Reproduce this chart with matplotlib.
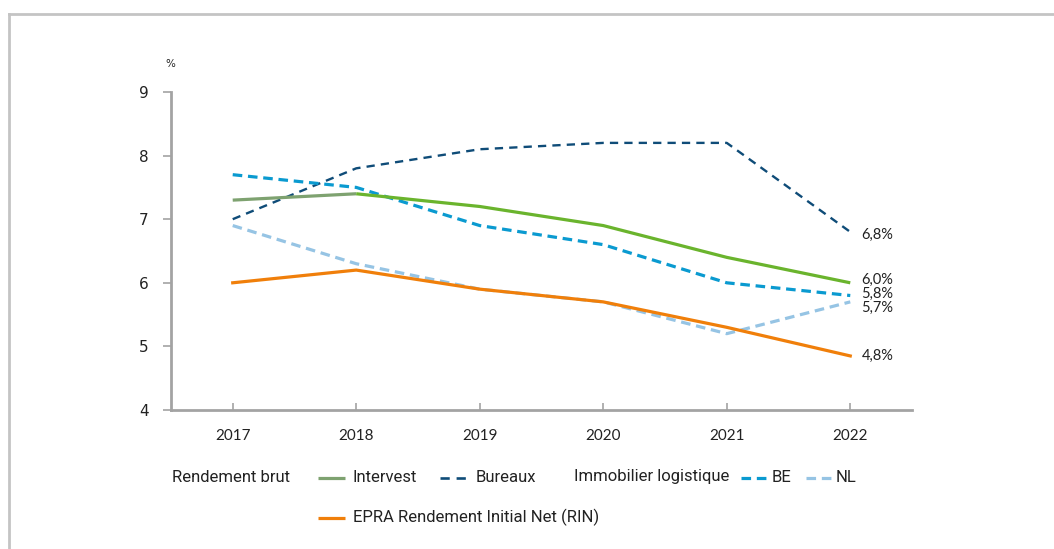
import matplotlib.pyplot as plt
from matplotlib.lines import Line2D

# données (rendements en %)
annees = [2017, 2018, 2019, 2020, 2021, 2022]
intervest = [7.3, 7.4, 7.2, 6.9, 6.4, 6.0]
bureaux = [7.0, 7.8, 8.1, 8.2, 8.2, 6.8]
logistique_be = [7.7, 7.5, 6.9, 6.6, 6.0, 5.8]
logistique_nl = [6.9, 6.3, 5.9, 5.7, 5.2, 5.7]
epra_rin = [6.0, 6.2, 5.9, 5.7, 5.3, 4.85]

etiquettes_fin = ['6,8%', '6,0%', '5,8%', '5,7%', '4,8%']
valeurs_fin = [bureaux[-1], intervest[-1], logistique_be[-1], logistique_nl[-1], epra_rin[-1]]
decalages_fin = [-2, 2, 1, -4, 0]  # en points, pour éviter les chevauchements

vert_clair = '#6ab42d'
vert_gris = '#7ea270'
bleu_fonce = '#0f4c78'
bleu = '#0a9ad0'
bleu_clair = '#96c4e4'
orange = '#f07f0a'
gris = '#a3a3a3'
texte = '#222222'

fig = plt.figure(figsize=(10.54, 5.49), dpi=100)
ax = fig.add_axes([0.1622, 0.2532, 0.7031, 0.5792])

# cadre gris autour du graphique
fig.add_artist(Line2D([9 / 1054, 9 / 1054], [0, 1 - 14 / 549], transform=fig.transFigure,
                      color='#c4c4c4', lw=2))
fig.add_artist(Line2D([9 / 1054, 1], [1 - 14 / 549, 1 - 14 / 549], transform=fig.transFigure,
                      color='#c4c4c4', lw=2))

ax.plot(annees, bureaux, color=bleu_fonce, lw=1.7, dashes=(3.5, 2.6), zorder=3)
ax.plot(annees, logistique_be, color=bleu, lw=2.3, dashes=(3, 1.8), zorder=3)
ax.plot(annees[:2], intervest[:2], color=vert_gris, lw=2.3, solid_capstyle='butt', zorder=4)
ax.plot(annees[1:], intervest[1:], color=vert_clair, lw=2.3, solid_capstyle='butt', zorder=4)
ax.plot(annees, logistique_nl, color=bleu_clair, lw=2.3, dashes=(3, 1.8), zorder=3)
ax.plot(annees, epra_rin, color=orange, lw=2.3, zorder=4)

for lab, val, dy in zip(etiquettes_fin, valeurs_fin, decalages_fin):
    ax.annotate(lab, (annees[-1], val), xytext=(8, dy), textcoords='offset points',
                va='center', ha='left', fontsize=10.5, color=texte, family='Lato')

ax.set_xlim(2016.5, 2022.5)
ax.set_ylim(4, 9)
ax.set_xticks(annees)
ax.set_yticks(range(4, 10))
for s in ['top', 'right']:
    ax.spines[s].set_visible(False)
for s in ['left', 'bottom']:
    ax.spines[s].set_color(gris)
    ax.spines[s].set_linewidth(2)
ax.tick_params(axis='y', direction='out', length=6, width=1.2, color=gris,
               labelsize=11, labelcolor=texte, pad=10)
ax.tick_params(axis='x', direction='in', length=5, width=1.2, color=gris,
               labelsize=11, labelcolor=texte, pad=14)
for t in ax.get_xticklabels():
    t.set_family('Lato')

fig.text(170 / 1054, 1 - 64 / 549, '%', fontsize=7.5, color=texte, ha='center', va='center')

# légende construite à la main
def ligne_legende(x0, x1, y, couleur, tirets=None, lw=2.3):
    ln = Line2D([x0 / 1054, x1 / 1054], [1 - y / 549, 1 - y / 549], transform=fig.transFigure,
                color=couleur, lw=lw, solid_capstyle='butt')
    if tirets:
        ln.set_dashes(tirets)
    fig.add_artist(ln)

def texte_legende(x, y, s):
    fig.text(x / 1054, 1 - y / 549, s, fontsize=12, color=texte, va='center',
             ha='left', family='Roboto')

texte_legende(172, 477, 'Rendement brut')
ligne_legende(318, 345, 478, vert_gris)
texte_legende(353, 477, 'Intervest')
ligne_legende(440, 467, 478, bleu_fonce, (3.5, 2.6), 1.9)
texte_legende(476, 477, 'Bureaux')
texte_legende(574, 477, 'Immobilier logistique')
ligne_legende(741, 766, 478, bleu, (3, 1.8))
texte_legende(772, 477, 'BE')
ligne_legende(806, 831, 478, bleu_clair, (3, 1.8))
texte_legende(836, 477, 'NL')
ligne_legende(318, 345, 518, orange)
texte_legende(353, 517, 'EPRA Rendement Initial Net (RIN)')

fig.savefig('out.png', dpi=100)
